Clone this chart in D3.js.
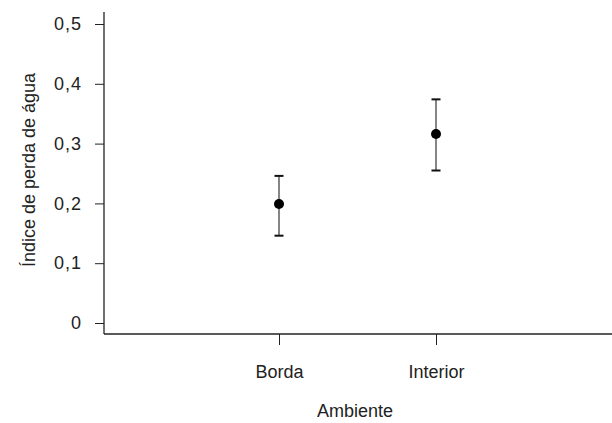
<!DOCTYPE html>
<html>
<head>
<meta charset="utf-8">
<script src="https://cdn.jsdelivr.net/npm/d3@7"></script>
<style>
  body { margin: 0; background: #fff; }
  text { font-family: "Liberation Sans", Arial, sans-serif; fill: #222; }
</style>
</head>
<body>
<div id="chart"></div>
<script>
// data
var categories = ["Borda", "Interior"]
var means = [0.199, 0.316]
var lower = [0.146, 0.255]
var upper = [0.246, 0.374]
var yTicks = [0, 0.1, 0.2, 0.3, 0.4, 0.5]

var width = 612, height = 423
var fontSize = 18

var svg = d3.select("#chart")
  .append("svg")
    .attr("width", width)
    .attr("height", height)

// scales
var x = d3.scaleLinear()
  .domain([1, 2])
  .range([279, 436])
var y = d3.scaleLinear()
  .domain([0, 0.5])
  .range([323, 24])

var axisLeftX = 104, axisBottomY = 334

// y axis
var yAxis = svg.append("g")
  .attr("transform", "translate(" + axisLeftX + ",0)")
  .call(d3.axisLeft(y).tickValues(yTicks).tickSize(9).tickPadding(13)
    .tickFormat(function(d) { return d === 0 ? "0" : d3.format(".1f")(d).replace(".", ",") }))
yAxis.select(".domain").remove()
yAxis.selectAll("line").attr("stroke", "#222")
yAxis.selectAll("text").attr("font-size", fontSize).attr("fill", "#222")
  .attr("font-family", "'Liberation Sans', Arial, sans-serif")
  .attr("letter-spacing", 1)
svg.append("line")
  .attr("x1", axisLeftX).attr("x2", axisLeftX)
  .attr("y1", 12).attr("y2", axisBottomY)
  .attr("stroke", "#222").attr("stroke-width", 1.3)

// x axis
var xAxis = svg.append("g")
  .attr("transform", "translate(0," + axisBottomY + ")")
  .call(d3.axisBottom(x).tickValues([1, 2]).tickSize(11).tickPadding(20)
    .tickFormat(function(d) { return categories[d - 1] }))
xAxis.select(".domain").remove()
xAxis.selectAll("line").attr("stroke", "#222")
xAxis.selectAll("text").attr("font-size", fontSize).attr("fill", "#222")
  .attr("font-family", "'Liberation Sans', Arial, sans-serif")
svg.append("line")
  .attr("x1", axisLeftX).attr("x2", width)
  .attr("y1", axisBottomY).attr("y2", axisBottomY)
  .attr("stroke", "#222").attr("stroke-width", 1.3)

// axis titles
svg.append("text")
  .attr("x", 355)
  .attr("y", 417)
  .attr("text-anchor", "middle")
  .attr("font-size", fontSize)
  .text("Ambiente")

svg.append("text")
  .attr("transform", "translate(35,170) rotate(-90)")
  .attr("text-anchor", "middle")
  .attr("font-size", fontSize)
  .text("Índice de perda de água")

// error bars
categories.forEach(function(c, i) {
  var cx = x(i + 1)
  svg.append("line")
    .attr("x1", cx).attr("x2", cx)
    .attr("y1", y(upper[i])).attr("y2", y(lower[i]))
    .attr("stroke", "#333").attr("stroke-width", 1.2)
  ;[upper[i], lower[i]].forEach(function(v) {
    svg.append("line")
      .attr("x1", cx - 4.5).attr("x2", cx + 4.5)
      .attr("y1", y(v)).attr("y2", y(v))
      .attr("stroke", "#111").attr("stroke-width", 2)
  })
  svg.append("circle")
    .attr("cx", cx)
    .attr("cy", y(means[i]))
    .attr("r", 5)
    .attr("fill", "#000")
})
</script>
</body>
</html>
